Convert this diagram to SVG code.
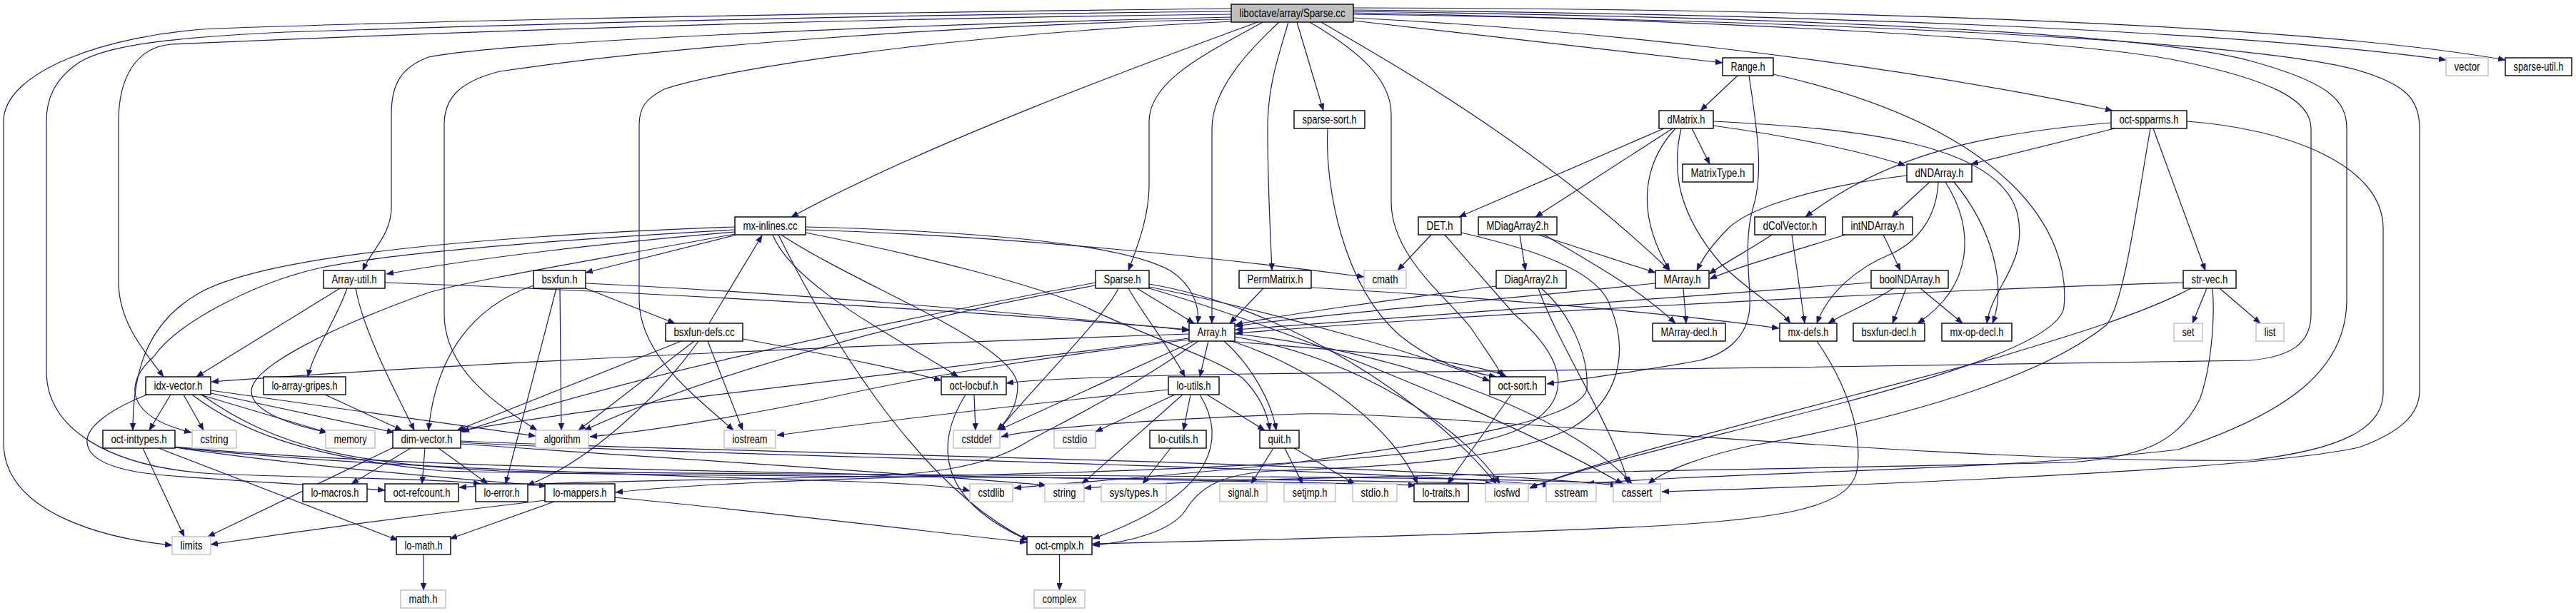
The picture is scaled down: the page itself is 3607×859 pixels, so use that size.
<svg xmlns="http://www.w3.org/2000/svg" width="3607" height="859" viewBox="0 0 3607 859">
<style>
.edge{fill:none;stroke:#191970;stroke-width:1.2;marker-end:url(#arr)}
.node rect{fill:#fff;stroke:#000;stroke-width:1.4}
.ext rect{stroke:#bfbfbf}
.root rect{fill:#bfbfbf}
.node text{font-family:"Liberation Sans",Arial,Helvetica,sans-serif;font-size:16px;text-anchor:middle;fill:#000}
</style>
<defs>
<marker id="arr" viewBox="0 0 10 8" refX="10" refY="4" markerWidth="10" markerHeight="8" markerUnits="userSpaceOnUse" orient="auto"><path d="M0,0L10,4L0,8z" fill="#191970" stroke="#191970" stroke-width="0.5"/></marker>
</defs>
<rect x="0" y="0" width="3607" height="859" fill="#fff"/>
<g id="edges">
<path class="edge" d="M1724,12 C1200,18 700,26 300,40 C150,48 5,100 5,170 L5,620 C5,720 150,755 241,764"/>
<path class="edge" d="M1724,16 C1300,20 800,32 400,45 C250,52 150,62 110,88 C75,112 65,140 65,170 L65,520 C65,600 150,655 300,664 C450,670 600,670 673,678"/>
<path class="edge" d="M1724,20 C1000,28 400,55 240,62 C190,66 166,110 166,170 L166,395 C166,450 200,490 229,528"/>
<path class="edge" d="M1724,24 C1200,36 700,60 600,80 C560,95 548,120 548,160 L548,290 C548,330 520,350 508,379"/>
<path class="edge" d="M1724,27 C1300,35 900,70 700,100 C640,115 622,140 622,175 L622,440 C622,520 700,570 752,603"/>
<path class="edge" d="M1726,30 C1300,50 1000,100 930,125 C905,138 895,150 895,175 L895,420 C895,500 980,560 1027,603"/>
<path class="edge" d="M1761,31 C1600,90 1300,200 1108,304"/>
<path class="edge" d="M1768,31 C1700,70 1609,110 1609,170 L1609,260 C1609,300 1595,340 1580,379"/>
<path class="edge" d="M1791,31 C1760,60 1697,120 1697,180 L1697,453"/>
<path class="edge" d="M1804,31 C1790,80 1775,120 1775,180 C1775,260 1779,330 1781,379"/>
<path class="edge" d="M1816,31 L1853,155"/>
<path class="edge" d="M1834,31 C1900,70 1948,110 1948,160 L1948,283 C1948,360 2030,420 2060,460 C2080,490 2095,510 2104,528"/>
<path class="edge" d="M1850,31 C1950,90 2150,200 2338,379"/>
<path class="edge" d="M1895,29 L2412,88"/>
<path class="edge" d="M1895,25 C2200,40 2600,80 2958,155"/>
<path class="edge" d="M1895,14 C2500,20 3100,40 3425,84"/>
<path class="edge" d="M1895,11 C2500,12 3200,30 3508,84"/>
<path class="edge" d="M1895,18 C2400,28 2900,55 3050,85 C3180,112 3236,140 3236,180 L3236,440 C3236,480 3210,500 3150,505 C2800,512 2000,521 1750,524 C1600,526 1450,531 1409,537"/>
<path class="edge" d="M1895,16 C2500,24 3000,45 3150,85 C3260,115 3286,140 3286,180 L3286,420 C3286,520 3200,580 3050,630 C2800,660 2400,662 2222,678"/>
<path class="edge" d="M1895,20 C2600,30 3150,58 3300,98 C3370,118 3388,140 3388,180 L3388,547 C3388,580 3363,605 3303,627 C3150,660 2600,680 2327,689"/>
<path class="edge" d="M2433,106 L2381,155"/>
<path class="edge" d="M2449,106 C2460,180 2470,240 2455,290 C2440,340 2452,400 2450,430 C2448,470 2420,495 2380,505 C2300,520 2220,530 2166,538"/>
<path class="edge" d="M2483,104 C2820,180 2900,330 2890,430 C2880,520 2300,620 2142,684"/>
<path class="edge" d="M2330,180 L2043,304"/>
<path class="edge" d="M2342,180 L2150,304"/>
<path class="edge" d="M2346,180 C2300,230 2290,300 2338,379"/>
<path class="edge" d="M2354,180 C2340,240 2350,300 2410,370 C2450,410 2490,430 2507,453"/>
<path class="edge" d="M2369,180 L2394,230"/>
<path class="edge" d="M2399,176 C2500,190 2600,210 2668,232"/>
<path class="edge" d="M2399,170 C2600,180 2800,200 2825,300 C2840,370 2790,400 2782,453"/>
<path class="edge" d="M2956,172 C2800,185 2650,210 2528,304"/>
<path class="edge" d="M2961,180 L2760,230"/>
<path class="edge" d="M3015,180 L3088,379"/>
<path class="edge" d="M3011,180 C2990,300 2975,420 2950,455 C2870,520 2700,580 2450,625 C2380,640 2330,660 2308,678"/>
<path class="edge" d="M3062,170 C3200,180 3337,230 3337,320 L3337,550 C3337,600 3280,630 3150,645 C2700,650 2000,575 1820,580 C1600,588 1450,600 1402,612"/>
<path class="edge" d="M2670,246 C2550,260 2450,290 2420,320 C2400,340 2385,360 2376,379"/>
<path class="edge" d="M2702,255 L2649,304"/>
<path class="edge" d="M2714,255 C2712,300 2690,335 2650,355 C2600,375 2560,410 2544,453"/>
<path class="edge" d="M2724,255 C2765,320 2765,400 2685,453"/>
<path class="edge" d="M2736,255 C2790,320 2810,400 2790,453"/>
<path class="edge" d="M2481,329 C2450,350 2420,365 2393,384"/>
<path class="edge" d="M2509,329 L2527,453"/>
<path class="edge" d="M2584,329 C2500,355 2430,375 2394,391"/>
<path class="edge" d="M2637,329 L2661,379"/>
<path class="edge" d="M2620,396 C2300,420 1900,450 1730,462"/>
<path class="edge" d="M2651,404 C2620,425 2580,440 2560,453"/>
<path class="edge" d="M2669,404 L2650,453"/>
<path class="edge" d="M2689,404 L2748,453"/>
<path class="edge" d="M3057,396 C2600,410 2000,445 1730,467"/>
<path class="edge" d="M3090,404 L3070,453"/>
<path class="edge" d="M3108,404 L3165,453"/>
<path class="edge" d="M3098,404 C3102,450 3095,520 3080,560 C3050,620 3000,640 2900,648 C2400,660 1700,668 1518,684"/>
<path class="edge" d="M3068,404 C3000,440 2900,470 2800,500 C2500,580 2250,640 2142,684"/>
<path class="edge" d="M2128,329 L2136,379"/>
<path class="edge" d="M2154,329 L2318,382"/>
<path class="edge" d="M2162,329 C2250,380 2300,410 2346,453"/>
<path class="edge" d="M2318,397 C2100,420 1850,440 1730,457"/>
<path class="edge" d="M2357,404 L2361,453"/>
<path class="edge" d="M2095,401 C1950,420 1800,440 1730,455"/>
<path class="edge" d="M2154,404 C2180,480 2260,600 2280,678"/>
<path class="edge" d="M2158,404 C2200,440 2225,500 2222,545 C2215,580 2100,610 1800,650 C1600,670 1480,678 1420,684"/>
<path class="edge" d="M2004,329 L1957,379"/>
<path class="edge" d="M2023,329 L2120,440 C2190,500 2210,560 2130,600 C2050,640 1800,652 1500,662 C1100,672 950,680 862,690"/>
<path class="edge" d="M2046,326 C2150,350 2240,380 2255,430 C2280,490 2270,560 2200,600 C2100,650 1900,655 1780,660 C1700,665 1675,690 1660,715 C1640,745 1580,760 1530,764"/>
<path class="edge" d="M1769,404 L1722,453"/>
<path class="edge" d="M1836,403 C2100,418 2350,440 2491,460"/>
<path class="edge" d="M1592,404 L1672,453"/>
<path class="edge" d="M1580,404 C1600,440 1640,490 1659,528"/>
<path class="edge" d="M1566,404 C1550,440 1450,540 1398,603"/>
<path class="edge" d="M1534,396 C1300,440 900,520 647,605"/>
<path class="edge" d="M1534,400 C1300,440 1000,520 818,603"/>
<path class="edge" d="M1609,402 C1800,440 2000,500 2086,534"/>
<path class="edge" d="M1609,404 C1800,460 2100,580 2272,678"/>
<path class="edge" d="M1609,398 C1800,430 2000,560 2095,678"/>
<path class="edge" d="M1665,468 C1300,480 700,505 296,535"/>
<path class="edge" d="M1665,474 C1300,520 900,560 642,604"/>
<path class="edge" d="M1665,476 C1500,495 1300,525 1150,560 C1000,590 900,605 826,612"/>
<path class="edge" d="M1672,478 L1398,603"/>
<path class="edge" d="M1692,478 L1680,528"/>
<path class="edge" d="M1714,478 C1750,510 1780,560 1787,603"/>
<path class="edge" d="M1720,478 C1850,490 2050,500 2110,528"/>
<path class="edge" d="M1725,478 C1850,520 1950,600 1985,678"/>
<path class="edge" d="M1729,472 C1900,500 2050,600 2100,678"/>
<path class="edge" d="M1729,468 C1950,490 2200,580 2285,678"/>
<path class="edge" d="M1678,478 C1560,560 1470,600 1437,620 C1380,655 1300,665 1200,668 C1000,672 750,676 643,683"/>
<path class="edge" d="M239,553 L209,603"/>
<path class="edge" d="M257,553 L285,603"/>
<path class="edge" d="M280,553 L458,606"/>
<path class="edge" d="M295,551 L552,606"/>
<path class="edge" d="M295,547 C450,570 600,590 750,611"/>
<path class="edge" d="M206,553 C150,575 120,600 122,620 C124,645 160,660 230,666 C350,676 460,680 539,687"/>
<path class="edge" d="M269,553 C330,600 420,640 620,660 C1000,670 1800,668 2090,678"/>
<path class="edge" d="M282,553 C390,630 500,650 700,660 C1200,668 2000,664 2275,678"/>
<path class="edge" d="M200,628 L258,752"/>
<path class="edge" d="M222,628 L557,757"/>
<path class="edge" d="M245,627 C400,650 600,668 765,681"/>
<path class="edge" d="M245,627 C500,655 900,665 1100,672 C1250,676 1330,680 1358,688"/>
<path class="edge" d="M245,626 C600,662 1400,665 1982,680"/>
<path class="edge" d="M575,628 L492,678"/>
<path class="edge" d="M595,628 L591,678"/>
<path class="edge" d="M551,627 L291,752"/>
<path class="edge" d="M614,628 L683,678"/>
<path class="edge" d="M645,622 C900,640 1300,665 1465,680"/>
<path class="edge" d="M645,620 C1000,640 1800,650 2170,680"/>
<path class="edge" d="M645,618 C1000,635 1900,645 2265,680"/>
<path class="edge" d="M455,553 L563,603"/>
<path class="edge" d="M476,404 L275,528"/>
<path class="edge" d="M486,404 C470,450 440,490 431,528"/>
<path class="edge" d="M498,404 C510,470 560,560 580,603"/>
<path class="edge" d="M539,396 C800,405 1300,430 1665,462"/>
<path class="edge" d="M747,400 C660,430 610,500 600,603"/>
<path class="edge" d="M784,404 L786,603"/>
<path class="edge" d="M779,404 L708,678"/>
<path class="edge" d="M820,397 C1100,410 1450,440 1665,463"/>
<path class="edge" d="M820,404 L945,453"/>
<path class="edge" d="M993,453 L1067,330"/>
<path class="edge" d="M954,478 L640,603"/>
<path class="edge" d="M972,478 L810,603"/>
<path class="edge" d="M978,478 C920,560 820,650 738,680"/>
<path class="edge" d="M991,478 L1040,603"/>
<path class="edge" d="M1040,475 C1150,495 1250,515 1318,533"/>
<path class="edge" d="M1029,318 C700,330 380,355 280,410 C200,455 186,530 186,603"/>
<path class="edge" d="M1029,322 C800,335 560,352 450,375 C360,395 250,450 215,500 C170,540 180,585 268,606"/>
<path class="edge" d="M1029,328 C800,370 650,395 600,410 C460,460 352,515 352,548 C352,580 420,598 458,606"/>
<path class="edge" d="M1029,325 C800,345 650,365 541,384"/>
<path class="edge" d="M1031,329 L820,382"/>
<path class="edge" d="M1082,329 C1110,400 1250,470 1342,528"/>
<path class="edge" d="M1094,329 C1200,400 1420,480 1425,540 C1425,570 1410,590 1396,603"/>
<path class="edge" d="M1128,318 C1400,325 1580,345 1640,380 C1670,400 1680,430 1677,453"/>
<path class="edge" d="M1128,322 C1400,330 1700,360 1910,388"/>
<path class="edge" d="M1128,326 C1300,360 1450,400 1520,430 C1600,470 1700,500 1740,530 C1765,555 1775,580 1778,603"/>
<path class="edge" d="M1090,329 C1150,450 1280,680 1440,757"/>
<path class="edge" d="M1364,553 L1366,603"/>
<path class="edge" d="M1352,553 C1310,620 1310,700 1440,757"/>
<path class="edge" d="M1636,546 C1400,570 1200,595 1088,610"/>
<path class="edge" d="M1645,553 L1534,605"/>
<path class="edge" d="M1667,553 L1657,603"/>
<path class="edge" d="M1656,553 L1515,678"/>
<path class="edge" d="M1680,553 C1715,610 1710,690 1530,755"/>
<path class="edge" d="M1690,553 L1771,603"/>
<path class="edge" d="M1639,628 L1600,678"/>
<path class="edge" d="M1783,628 L1752,678"/>
<path class="edge" d="M1799,628 L1824,678"/>
<path class="edge" d="M1812,628 L1897,678"/>
<path class="edge" d="M2116,553 L2027,678"/>
<path class="edge" d="M1483.5,777 L1483.5,827"/>
<path class="edge" d="M593,777 L593,827"/>
<path class="edge" d="M861,697 C1100,720 1300,745 1438,760"/>
<path class="edge" d="M776,703 L630,755"/>
<path class="edge" d="M764,701 C600,720 450,740 295,763"/>
<path class="edge" d="M1859,180 C1855,260 1880,400 1960,470 C2010,510 2050,520 2095,528"/>
<path class="edge" d="M2544,478 C2580,530 2610,600 2600,660 C2590,710 2500,728 2300,738 C2000,752 1700,758 1530,762"/>
</g>
<g id="n-sparse-cc" class="node root"><rect x="1724" y="6" width="171" height="25"/><text x="1809.5" y="23.5" textLength="148" lengthAdjust="spacingAndGlyphs">liboctave/array/Sparse.cc</text></g>
<g id="n-range-h" class="node"><rect x="2412" y="81" width="71" height="25"/><text x="2447.5" y="98.5" textLength="48" lengthAdjust="spacingAndGlyphs">Range.h</text></g>
<g id="n-vector" class="node ext"><rect x="3425" y="81" width="59" height="25"/><text x="3454.5" y="98.5" textLength="36" lengthAdjust="spacingAndGlyphs">vector</text></g>
<g id="n-sparse-util-h" class="node"><rect x="3508" y="81" width="93" height="25"/><text x="3554.5" y="98.5" textLength="70" lengthAdjust="spacingAndGlyphs">sparse-util.h</text></g>
<g id="n-sparse-sort-h" class="node"><rect x="1812" y="155" width="99" height="25"/><text x="1861.5" y="172.5" textLength="76" lengthAdjust="spacingAndGlyphs">sparse-sort.h</text></g>
<g id="n-dmatrix-h" class="node"><rect x="2323" y="155" width="76" height="25"/><text x="2361" y="172.5" textLength="53" lengthAdjust="spacingAndGlyphs">dMatrix.h</text></g>
<g id="n-oct-spparms-h" class="node"><rect x="2956" y="155" width="106" height="25"/><text x="3009" y="172.5" textLength="83" lengthAdjust="spacingAndGlyphs">oct-spparms.h</text></g>
<g id="n-matrixtype-h" class="node"><rect x="2356" y="230" width="99" height="25"/><text x="2405.5" y="247.5" textLength="76" lengthAdjust="spacingAndGlyphs">MatrixType.h</text></g>
<g id="n-dndarray-h" class="node"><rect x="2670" y="230" width="91" height="25"/><text x="2715.5" y="247.5" textLength="68" lengthAdjust="spacingAndGlyphs">dNDArray.h</text></g>
<g id="n-mx-inlines-cc" class="node"><rect x="1029" y="304" width="99" height="25"/><text x="1078.5" y="321.5" textLength="76" lengthAdjust="spacingAndGlyphs">mx-inlines.cc</text></g>
<g id="n-det-h" class="node"><rect x="1986" y="304" width="60" height="25"/><text x="2016" y="321.5" textLength="37" lengthAdjust="spacingAndGlyphs">DET.h</text></g>
<g id="n-mdiagarray2-h" class="node"><rect x="2070" y="304" width="110" height="25"/><text x="2125" y="321.5" textLength="87" lengthAdjust="spacingAndGlyphs">MDiagArray2.h</text></g>
<g id="n-dcolvector-h" class="node"><rect x="2457" y="304" width="99" height="25"/><text x="2506.5" y="321.5" textLength="76" lengthAdjust="spacingAndGlyphs">dColVector.h</text></g>
<g id="n-intndarray-h" class="node"><rect x="2580" y="304" width="98" height="25"/><text x="2629" y="321.5" textLength="75" lengthAdjust="spacingAndGlyphs">intNDArray.h</text></g>
<g id="n-array-util-h" class="node"><rect x="453" y="379" width="86" height="25"/><text x="496" y="396.5" textLength="63" lengthAdjust="spacingAndGlyphs">Array-util.h</text></g>
<g id="n-bsxfun-h" class="node"><rect x="747" y="379" width="73" height="25"/><text x="783.5" y="396.5" textLength="50" lengthAdjust="spacingAndGlyphs">bsxfun.h</text></g>
<g id="n-sparse-h" class="node"><rect x="1534" y="379" width="75" height="25"/><text x="1571.5" y="396.5" textLength="52" lengthAdjust="spacingAndGlyphs">Sparse.h</text></g>
<g id="n-permmatrix-h" class="node"><rect x="1735" y="379" width="101" height="25"/><text x="1785.5" y="396.5" textLength="78" lengthAdjust="spacingAndGlyphs">PermMatrix.h</text></g>
<g id="n-cmath" class="node ext"><rect x="1910" y="379" width="59" height="25"/><text x="1939.5" y="396.5" textLength="36" lengthAdjust="spacingAndGlyphs">cmath</text></g>
<g id="n-diagarray2-h" class="node"><rect x="2095" y="379" width="98" height="25"/><text x="2144" y="396.5" textLength="75" lengthAdjust="spacingAndGlyphs">DiagArray2.h</text></g>
<g id="n-marray-h" class="node"><rect x="2318" y="379" width="75" height="25"/><text x="2355.5" y="396.5" textLength="52" lengthAdjust="spacingAndGlyphs">MArray.h</text></g>
<g id="n-boolndarray-h" class="node"><rect x="2620" y="379" width="108" height="25"/><text x="2674" y="396.5" textLength="85" lengthAdjust="spacingAndGlyphs">boolNDArray.h</text></g>
<g id="n-str-vec-h" class="node"><rect x="3057" y="379" width="74" height="25"/><text x="3094" y="396.5" textLength="51" lengthAdjust="spacingAndGlyphs">str-vec.h</text></g>
<g id="n-bsxfun-defs-cc" class="node"><rect x="932" y="453" width="108" height="25"/><text x="986" y="470.5" textLength="85" lengthAdjust="spacingAndGlyphs">bsxfun-defs.cc</text></g>
<g id="n-array-h" class="node"><rect x="1665" y="453" width="64" height="25"/><text x="1697" y="470.5" textLength="41" lengthAdjust="spacingAndGlyphs">Array.h</text></g>
<g id="n-marray-decl-h" class="node"><rect x="2314" y="453" width="102" height="25"/><text x="2365" y="470.5" textLength="79" lengthAdjust="spacingAndGlyphs">MArray-decl.h</text></g>
<g id="n-mx-defs-h" class="node"><rect x="2492" y="453" width="80" height="25"/><text x="2532" y="470.5" textLength="57" lengthAdjust="spacingAndGlyphs">mx-defs.h</text></g>
<g id="n-bsxfun-decl-h" class="node"><rect x="2595" y="453" width="100" height="25"/><text x="2645" y="470.5" textLength="77" lengthAdjust="spacingAndGlyphs">bsxfun-decl.h</text></g>
<g id="n-mx-op-decl-h" class="node"><rect x="2719" y="453" width="98" height="25"/><text x="2768" y="470.5" textLength="75" lengthAdjust="spacingAndGlyphs">mx-op-decl.h</text></g>
<g id="n-set" class="node ext"><rect x="3044" y="453" width="40" height="25"/><text x="3064" y="470.5" textLength="17" lengthAdjust="spacingAndGlyphs">set</text></g>
<g id="n-list" class="node ext"><rect x="3159" y="453" width="39" height="25"/><text x="3178.5" y="470.5" textLength="16" lengthAdjust="spacingAndGlyphs">list</text></g>
<g id="n-idx-vector-h" class="node"><rect x="204" y="528" width="91" height="25"/><text x="249.5" y="545.5" textLength="68" lengthAdjust="spacingAndGlyphs">idx-vector.h</text></g>
<g id="n-lo-array-gripes-h" class="node"><rect x="369" y="528" width="115" height="25"/><text x="426.5" y="545.5" textLength="92" lengthAdjust="spacingAndGlyphs">lo-array-gripes.h</text></g>
<g id="n-oct-locbuf-h" class="node"><rect x="1318" y="528" width="91" height="25"/><text x="1363.5" y="545.5" textLength="68" lengthAdjust="spacingAndGlyphs">oct-locbuf.h</text></g>
<g id="n-lo-utils-h" class="node"><rect x="1636" y="528" width="71" height="25"/><text x="1671.5" y="545.5" textLength="48" lengthAdjust="spacingAndGlyphs">lo-utils.h</text></g>
<g id="n-oct-sort-h" class="node"><rect x="2086" y="528" width="78" height="25"/><text x="2125" y="545.5" textLength="55" lengthAdjust="spacingAndGlyphs">oct-sort.h</text></g>
<g id="n-oct-inttypes-h" class="node"><rect x="144" y="603" width="101" height="25"/><text x="194.5" y="620.5" textLength="78" lengthAdjust="spacingAndGlyphs">oct-inttypes.h</text></g>
<g id="n-cstring" class="node ext"><rect x="269" y="603" width="62" height="25"/><text x="300" y="620.5" textLength="39" lengthAdjust="spacingAndGlyphs">cstring</text></g>
<g id="n-memory" class="node ext"><rect x="456" y="603" width="69" height="25"/><text x="490.5" y="620.5" textLength="46" lengthAdjust="spacingAndGlyphs">memory</text></g>
<g id="n-dim-vector-h" class="node"><rect x="550" y="603" width="95" height="25"/><text x="597.5" y="620.5" textLength="72" lengthAdjust="spacingAndGlyphs">dim-vector.h</text></g>
<g id="n-algorithm" class="node ext"><rect x="750" y="603" width="74" height="25"/><text x="787" y="620.5" textLength="51" lengthAdjust="spacingAndGlyphs">algorithm</text></g>
<g id="n-iostream" class="node ext"><rect x="1014" y="603" width="72" height="25"/><text x="1050" y="620.5" textLength="49" lengthAdjust="spacingAndGlyphs">iostream</text></g>
<g id="n-cstddef" class="node ext"><rect x="1335" y="603" width="65" height="25"/><text x="1367.5" y="620.5" textLength="42" lengthAdjust="spacingAndGlyphs">cstddef</text></g>
<g id="n-cstdio" class="node ext"><rect x="1476" y="603" width="58" height="25"/><text x="1505" y="620.5" textLength="35" lengthAdjust="spacingAndGlyphs">cstdio</text></g>
<g id="n-lo-cutils-h" class="node"><rect x="1610" y="603" width="79" height="25"/><text x="1649.5" y="620.5" textLength="56" lengthAdjust="spacingAndGlyphs">lo-cutils.h</text></g>
<g id="n-quit-h" class="node"><rect x="1764" y="603" width="55" height="25"/><text x="1791.5" y="620.5" textLength="32" lengthAdjust="spacingAndGlyphs">quit.h</text></g>
<g id="n-lo-macros-h" class="node"><rect x="424" y="678" width="90" height="25"/><text x="469" y="695.5" textLength="67" lengthAdjust="spacingAndGlyphs">lo-macros.h</text></g>
<g id="n-oct-refcount-h" class="node"><rect x="539" y="678" width="103" height="25"/><text x="590.5" y="695.5" textLength="80" lengthAdjust="spacingAndGlyphs">oct-refcount.h</text></g>
<g id="n-lo-error-h" class="node"><rect x="666" y="678" width="73" height="25"/><text x="702.5" y="695.5" textLength="50" lengthAdjust="spacingAndGlyphs">lo-error.h</text></g>
<g id="n-lo-mappers-h" class="node"><rect x="763" y="678" width="98" height="25"/><text x="812" y="695.5" textLength="75" lengthAdjust="spacingAndGlyphs">lo-mappers.h</text></g>
<g id="n-cstdlib" class="node ext"><rect x="1358" y="678" width="60" height="25"/><text x="1388" y="695.5" textLength="37" lengthAdjust="spacingAndGlyphs">cstdlib</text></g>
<g id="n-string" class="node ext"><rect x="1463" y="678" width="55" height="25"/><text x="1490.5" y="695.5" textLength="32" lengthAdjust="spacingAndGlyphs">string</text></g>
<g id="n-sys-types-h" class="node ext"><rect x="1542" y="678" width="91" height="25"/><text x="1587.5" y="695.5" textLength="68" lengthAdjust="spacingAndGlyphs">sys/types.h</text></g>
<g id="n-signal-h" class="node ext"><rect x="1708" y="678" width="66" height="25"/><text x="1741" y="695.5" textLength="43" lengthAdjust="spacingAndGlyphs">signal.h</text></g>
<g id="n-setjmp-h" class="node ext"><rect x="1798" y="678" width="72" height="25"/><text x="1834" y="695.5" textLength="49" lengthAdjust="spacingAndGlyphs">setjmp.h</text></g>
<g id="n-stdio-h" class="node ext"><rect x="1894" y="678" width="62" height="25"/><text x="1925" y="695.5" textLength="39" lengthAdjust="spacingAndGlyphs">stdio.h</text></g>
<g id="n-lo-traits-h" class="node"><rect x="1980" y="678" width="76" height="25"/><text x="2018" y="695.5" textLength="53" lengthAdjust="spacingAndGlyphs">lo-traits.h</text></g>
<g id="n-iosfwd" class="node ext"><rect x="2080" y="678" width="60" height="25"/><text x="2110" y="695.5" textLength="37" lengthAdjust="spacingAndGlyphs">iosfwd</text></g>
<g id="n-sstream" class="node ext"><rect x="2165" y="678" width="70" height="25"/><text x="2200" y="695.5" textLength="47" lengthAdjust="spacingAndGlyphs">sstream</text></g>
<g id="n-cassert" class="node ext"><rect x="2259" y="678" width="66" height="25"/><text x="2292" y="695.5" textLength="43" lengthAdjust="spacingAndGlyphs">cassert</text></g>
<g id="n-limits" class="node ext"><rect x="241" y="752" width="54" height="25"/><text x="268" y="769.5" textLength="31" lengthAdjust="spacingAndGlyphs">limits</text></g>
<g id="n-lo-math-h" class="node"><rect x="555" y="752" width="76" height="25"/><text x="593" y="769.5" textLength="53" lengthAdjust="spacingAndGlyphs">lo-math.h</text></g>
<g id="n-oct-cmplx-h" class="node"><rect x="1438" y="752" width="91" height="25"/><text x="1483.5" y="769.5" textLength="68" lengthAdjust="spacingAndGlyphs">oct-cmplx.h</text></g>
<g id="n-math-h" class="node ext"><rect x="561" y="827" width="63" height="25"/><text x="592.5" y="844.5" textLength="40" lengthAdjust="spacingAndGlyphs">math.h</text></g>
<g id="n-complex" class="node ext"><rect x="1448" y="827" width="71" height="25"/><text x="1483.5" y="844.5" textLength="48" lengthAdjust="spacingAndGlyphs">complex</text></g>
</svg>
